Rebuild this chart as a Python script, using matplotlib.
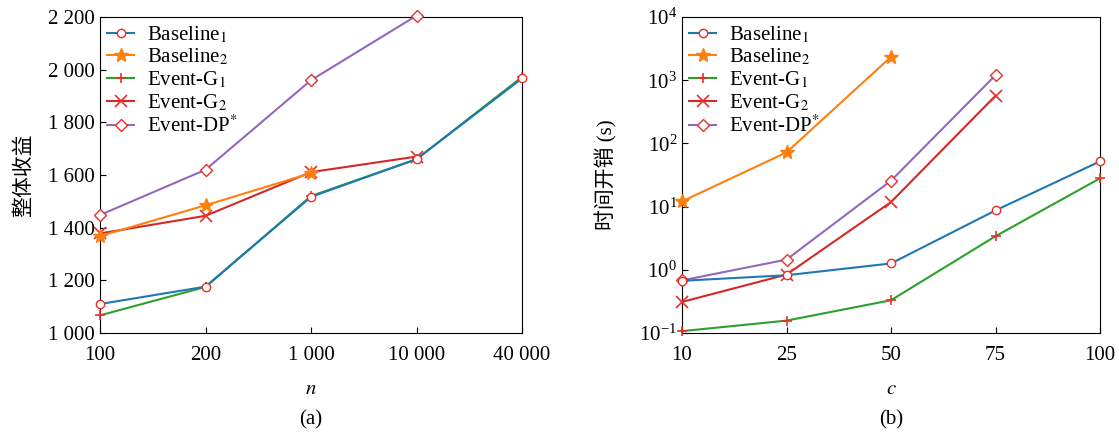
import numpy as np
import matplotlib.pyplot as plt
from matplotlib.ticker import FuncFormatter, LogLocator

plt.rcParams['font.family'] = ['Liberation Serif', 'Noto Sans CJK SC']
plt.rcParams['mathtext.fontset'] = 'stix'
plt.rcParams['font.size'] = 15

# (a) overall profit vs n
n_labels = ['100', '200', '1 000', '10 000', '40 000']
a_base1 = [1110, 1176, 1517, 1660, 1967]
a_base2 = [1368, 1485, 1607]
a_g1 = [1067, 1175, 1520, 1660, 1972]
a_g2 = [1378, 1445, 1611, 1670]
a_dp = [1448, 1620, 1960, 2205]

# (b) time cost vs c
c_labels = ['10', '25', '50', '75', '100']
b_base1 = [0.67, 0.82, 1.26, 8.7, 52]
b_base2 = [12.1, 72, 2340]
b_g1 = [0.107, 0.157, 0.33, 3.4, 28]
b_g2 = [0.31, 0.84, 11.8, 568]
b_dp = [0.68, 1.45, 25.7, 1200]

labels = ['Baseline$_1$', 'Baseline$_2$', 'Event-G$_1$', 'Event-G$_2$', 'Event-DP$^{*}$']
colors = ['#1f77b4', '#ff7f0e', '#2ca02c', '#d62728', '#9467bd']
mk_red = '#e8302a'


def draw(ax, series):
    styles = [
        dict(marker='o', mfc='white', mec=mk_red, ms=6),
        dict(marker='*', mfc=colors[1], mec=colors[1], ms=10),
        dict(marker='+', mec=mk_red, ms=7, mew=1.2),
        dict(marker='x', mec=mk_red, ms=9, mew=1.2),
        dict(marker='D', mfc='white', mec=mk_red, ms=6),
    ]
    for i, ys in enumerate(series):
        ax.plot(range(len(ys)), ys, color=colors[i], lw=1.5, label=labels[i],
                clip_on=False, zorder=3 + (4 - i) * 0.1, **styles[i])
    ax.tick_params(direction='in', top=False, right=False, length=4)
    ax.tick_params(axis='x', pad=9)
    ax.legend(loc='upper left', frameon=False, handlelength=1.3,
              borderaxespad=0.05, labelspacing=0.1, handletextpad=0.6,
              borderpad=0.3, fontsize=15)
    ax.xaxis.set_label_coords(0.5, -0.15)


fig = plt.figure(figsize=(11.19, 4.32), dpi=100)
ax1 = fig.add_axes([100 / 1119, 1 - 333 / 432, 422 / 1119, 316 / 432])
ax2 = fig.add_axes([682 / 1119, 1 - 333 / 432, 418 / 1119, 316 / 432])

draw(ax1, [a_base1, a_base2, a_g1, a_g2, a_dp])
ax1.set_xlim(0, 4)
ax1.set_ylim(1000, 2200)
ax1.set_xticks(range(5))
ax1.set_xticklabels(n_labels)
ax1.set_yticks(np.arange(1000, 2201, 200))
ax1.yaxis.set_major_formatter(FuncFormatter(lambda v, p: f'{int(v):,}'.replace(',', ' ')))
ax1.set_xlabel('$n$')
ax1.set_ylabel('整体收益', labelpad=10)
fig.text(311 / 1119, 12 / 432, '(a)', ha='center', va='center')

draw(ax2, [b_base1, b_base2, b_g1, b_g2, b_dp])
ax2.set_yscale('log')
ax2.set_xlim(0, 4)
ax2.set_ylim(0.1, 1e4)
ax2.set_xticks(range(5))
ax2.set_xticklabels(c_labels)
ax2.yaxis.set_major_locator(LogLocator(base=10, numticks=10))
ax2.yaxis.set_minor_locator(plt.NullLocator())
ax2.set_xlabel('$c$')
ax2.set_ylabel('时间开销 (s)', labelpad=16)
fig.text(891 / 1119, 12 / 432, '(b)', ha='center', va='center')

fig.savefig('out.png', dpi=100)
